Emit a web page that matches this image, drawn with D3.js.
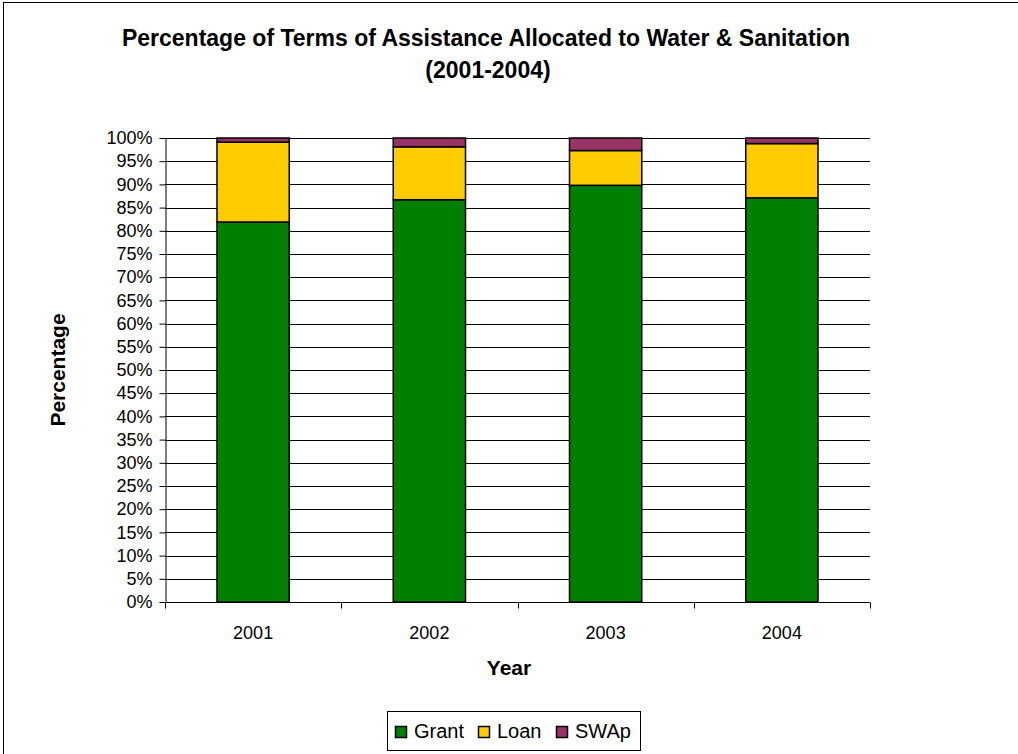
<!DOCTYPE html>
<html>
<head>
<meta charset="utf-8">
<script src="https://cdn.jsdelivr.net/npm/d3@7"></script>
<style>
  body { margin: 0; background: #fff; }
  svg { display: block; font-family: Arial, "Liberation Sans", sans-serif; }
</style>
</head>
<body>
<svg id="chart" width="1018" height="754"></svg>
<script>
// Share of assistance terms per year (percent)
const years = ["2001", "2002", "2003", "2004"];
const grant = [81.9, 86.7, 89.8, 87.1];
const loan  = [17.2, 11.4, 7.5, 11.7];
const swap  = [0.9, 1.9, 2.7, 1.2];
const seriesNames = ["Grant", "Loan", "SWAp"];
const seriesColors = ["#008000", "#FFCC00", "#993366"];
const yTicks = d3.range(0, 101, 5);

const rows = years.map((y, i) => ({ year: y, Grant: grant[i], Loan: loan[i], SWAp: swap[i] }));

const svg = d3.select("#chart");
const margin = { left: 165, right: 148, top: 138, bottom: 152 };
const W = 1018, H = 754;
const x = d3.scaleBand().domain(years).range([margin.left, W - margin.right]).paddingInner(0.59).paddingOuter(0.295);
const y = d3.scaleLinear().domain([0, 100]).range([H - margin.bottom, margin.top]);

// outer chart frame
svg.append("rect").attr("x", 3.5).attr("y", 2.5).attr("width", 1030).attr("height", 760)
  .attr("fill", "none").attr("stroke", "#000").attr("stroke-width", 1);

// horizontal gridlines
svg.append("g").selectAll("line").data(yTicks.filter(d => d > 0)).join("line")
  .attr("x1", margin.left).attr("x2", W - margin.right)
  .attr("y1", d => Math.round(y(d)) + 0.5).attr("y2", d => Math.round(y(d)) + 0.5)
  .attr("stroke", "#000").attr("stroke-width", 1);

// stacked bars
const stack = d3.stack().keys(seriesNames)(rows);
svg.append("g").selectAll("g").data(stack).join("g")
  .attr("fill", (d, i) => seriesColors[i])
  .selectAll("rect").data(d => d).join("rect")
  .attr("x", d => x(d.data.year))
  .attr("y", d => y(d[1]))
  .attr("width", x.bandwidth())
  .attr("height", d => y(d[0]) - y(d[1]))
  .attr("stroke", "#000").attr("stroke-width", 1.5);

// y axis
const yAxis = svg.append("g").attr("transform", `translate(${margin.left + 0.5},0)`)
  .call(d3.axisLeft(y).tickValues(yTicks).tickFormat(d => d + "%").tickSize(6).tickSizeOuter(0));
yAxis.select(".domain").attr("stroke", "#000");
yAxis.selectAll(".tick line").attr("stroke", "#000");
yAxis.selectAll("text").attr("font-size", 18).attr("fill", "#000").attr("x", -13);

// x axis
const xPos = d3.scaleLinear().domain([0, 4]).range([margin.left, W - margin.right]);
const xAxis = svg.append("g").attr("transform", `translate(0,${H - margin.bottom + 0.5})`);
xAxis.append("line").attr("x1", margin.left).attr("x2", W - margin.right).attr("stroke", "#000");
xAxis.selectAll("line.t").data(d3.range(0, 5)).join("line").attr("class", "t")
  .attr("x1", d => Math.round(xPos(d)) + 0.5).attr("x2", d => Math.round(xPos(d)) + 0.5)
  .attr("y1", 0).attr("y2", 6).attr("stroke", "#000");
xAxis.selectAll("text").data(years).join("text")
  .attr("x", d => x(d) + x.bandwidth() / 2).attr("y", 36)
  .attr("text-anchor", "middle").attr("font-size", 18).text(d => d);

// titles
svg.append("text").attr("x", 486).attr("y", 46).attr("text-anchor", "middle")
  .attr("font-size", 23).attr("font-weight", "bold").text("Percentage of Terms of Assistance Allocated to Water & Sanitation");
svg.append("text").attr("x", 488).attr("y", 78).attr("text-anchor", "middle")
  .attr("font-size", 23).attr("font-weight", "bold").text("(2001-2004)");
svg.append("text").attr("x", 509).attr("y", 675).attr("text-anchor", "middle")
  .attr("font-size", 21).attr("font-weight", "bold").text("Year");
svg.append("text").attr("transform", "translate(65,370) rotate(-90)").attr("text-anchor", "middle")
  .attr("font-size", 21).attr("font-weight", "bold").text("Percentage");

// legend
const lg = svg.append("g");
lg.append("rect").attr("x", 387.5).attr("y", 711.5).attr("width", 253).attr("height", 39)
  .attr("fill", "#fff").attr("stroke", "#000");
const legendX = [395, 478, 556];
seriesNames.forEach((n, i) => {
  lg.append("rect").attr("x", legendX[i] + 0.5).attr("y", 726.5).attr("width", 11).attr("height", 11)
    .attr("fill", seriesColors[i]).attr("stroke", "#000").attr("stroke-width", 1.5);
  lg.append("text").attr("x", legendX[i] + 19).attr("y", 738).attr("font-size", 20).text(n);
});
</script>
</body>
</html>
